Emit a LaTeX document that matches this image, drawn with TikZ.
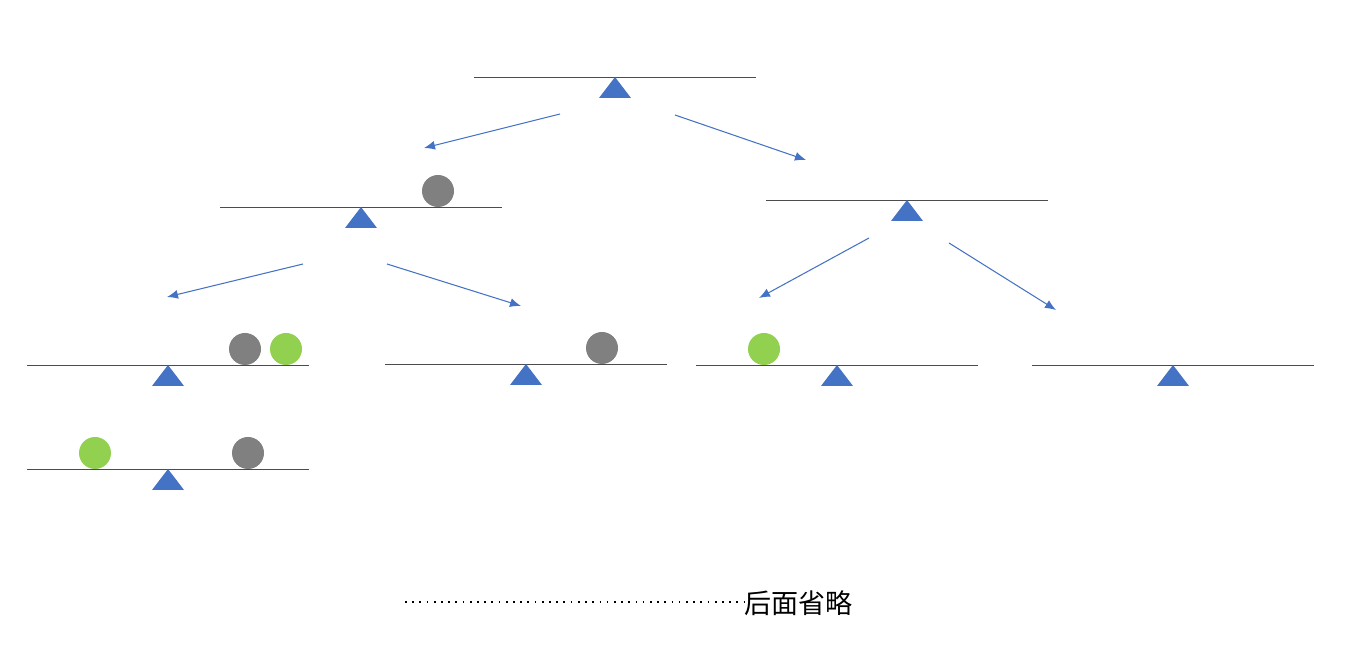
\documentclass[tikz,border=0pt]{standalone}
\usepackage{fontspec}
\newfontfamily\cjk{Noto Sans CJK SC}
\usepackage{xcolor}
\usetikzlibrary{arrows.meta,calc,positioning}
\definecolor{pivotblue}{HTML}{4472C4}
\definecolor{ballgray}{HTML}{808080}
\definecolor{ballgreen}{HTML}{92D050}
\tikzset{%
	beam/.style  = {draw=black!70, line width=0.5pt},
	pivot/.style = {fill=pivotblue},
	gball/.style = {fill=ballgray},
	hball/.style = {fill=ballgreen},
	arrow/.style = {draw=pivotblue, line width=0.6pt, -{Latex[length=2.2mm,width=1.8mm]}},
}
% balance: name, centre x, beam y
\newcommand{\balance}[3]{%
	\coordinate (#1) at (#2,#3);
	\draw[beam] ($(#1)+(-141,0)$) -- ($(#1)+(141,0)$);
	\fill[pivot] (#1) -- ++(16,21) -- ++(-32,0) -- cycle;
}
\begin{document}
\begin{tikzpicture}[x=0.02cm,y=-0.02cm]
	\useasboundingbox (0,0) rectangle (1346,668);
	% balances
	\balance{top}{615}{77}
	\balance{midl}{361}{207}
	\balance{midr}{907}{200}
	\balance{lowa}{168}{365}
	\balance{lowb}{526}{364}
	\balance{lowc}{837}{365}
	\balance{lowd}{1173}{365}
	\balance{last}{168}{469}
	% balls
	\fill[gball] (438,191) circle (16);
	\fill[gball] (245,349) circle (16);
	\fill[hball] (286,349) circle (16);
	\fill[gball] (602,348) circle (16);
	\fill[hball] (764,349) circle (16);
	\fill[hball] (95,453) circle (16);
	\fill[gball] (248,453) circle (16);
	% arrows between levels
	\coordinate (a1) at (560,114); \coordinate (b1) at (424,148);
	\coordinate (a2) at (675,115); \coordinate (b2) at (806,160);
	\coordinate (a3) at (303,264); \coordinate (b3) at (167,297);
	\coordinate (a4) at (387,264); \coordinate (b4) at (521,306);
	\coordinate (a5) at (869,238); \coordinate (b5) at (759,298);
	\coordinate (a6) at (949,243); \coordinate (b6) at (1056,310);
	\foreach \i in {1,...,6}
		\draw[arrow] (a\i) -- (b\i);
	% note
	\node[anchor=west, inner sep=0pt, font=\cjk\fontsize{15.4}{18}\selectfont] (rest) at (744,603) {后面省略};
	\coordinate (dots) at (405,602);
	\draw[line width=1.2pt, dash pattern=on 1pt off 3.1pt] (dots) -- (dots -| rest.west);
\end{tikzpicture}
\end{document}
